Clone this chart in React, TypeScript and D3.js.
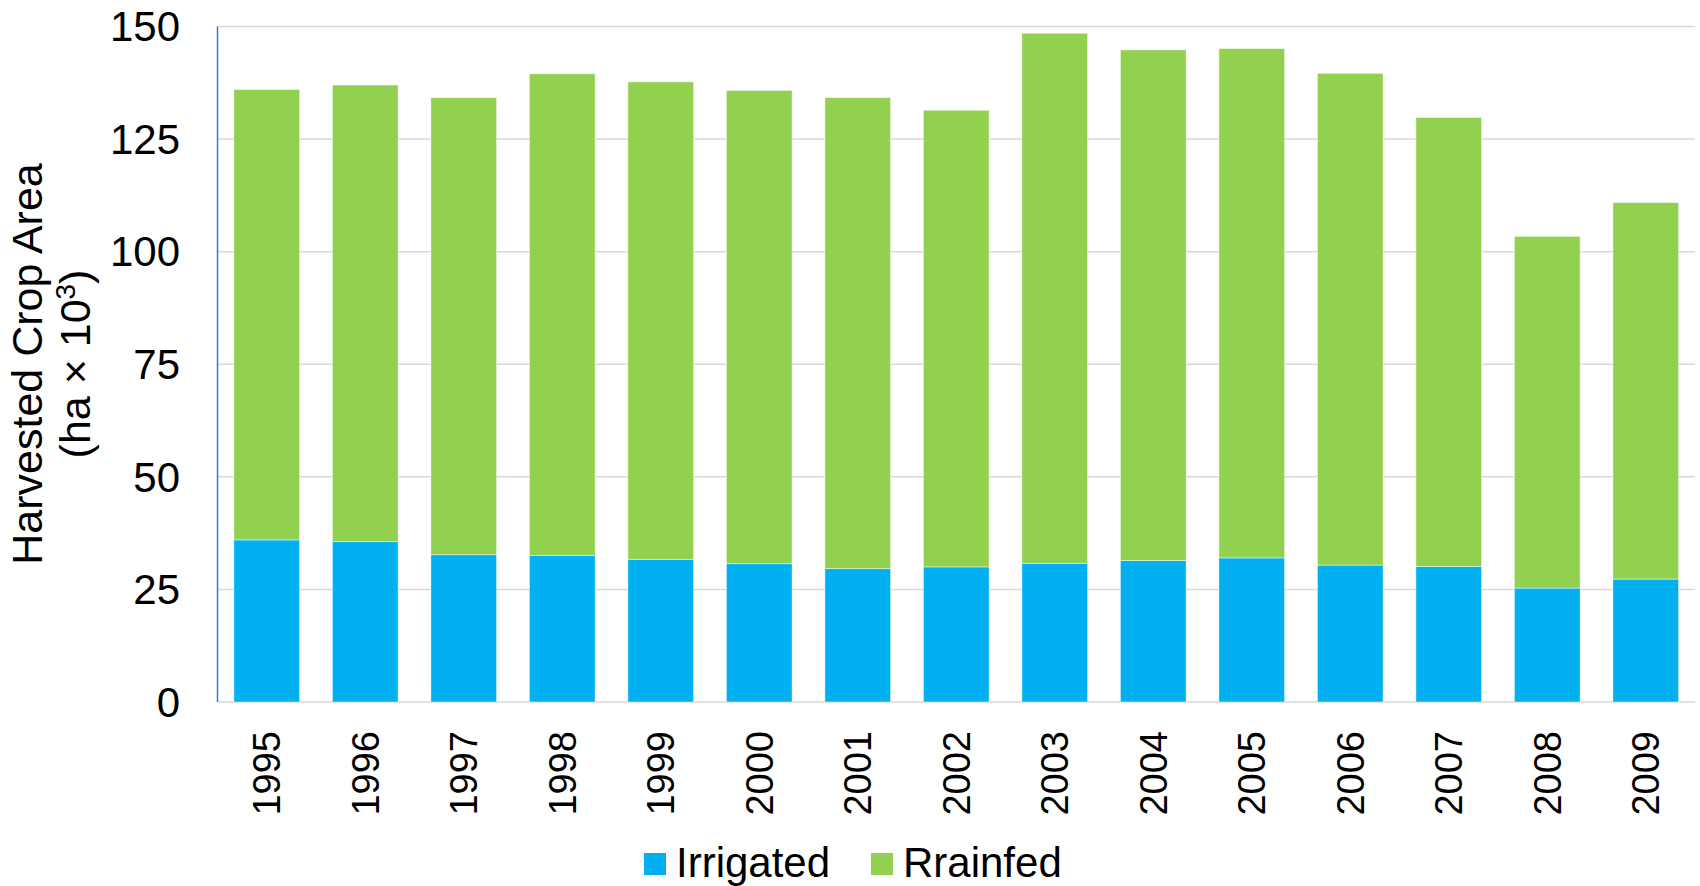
import React from "react";
import * as d3 from "d3";

const years = ["1995", "1996", "1997", "1998", "1999", "2000", "2001", "2002", "2003", "2004", "2005", "2006", "2007", "2008", "2009"];
const irrigated = [36.0, 35.6, 32.7, 32.5, 31.7, 30.7, 29.6, 30.0, 30.8, 31.4, 32.0, 30.4, 30.1, 25.3, 27.3];
const rainfed = [100.0, 101.4, 101.5, 107.0, 106.0, 105.1, 104.6, 101.4, 117.7, 113.4, 113.1, 109.2, 99.7, 78.1, 83.6];
const yTicks = [0, 25, 50, 75, 100, 125, 150];
const seriesNames = ["Irrigated", "Rrainfed"];
const seriesKeys = ["irrigated", "rainfed"];
const colors = ["#00B0F0", "#92D050"];

const W = 1700;
const H = 886;
const FONT = "'Liberation Sans', Arial, Helvetica, sans-serif";

export default function App() {
  const left = 217.5;
  const right = 1695;
  const top = 26.5;
  const bottom = 702;

  const x = d3.scaleBand<string>().domain(years).range([left, right]).paddingInner(0.333).paddingOuter(0.1665);
  const y = d3.scaleLinear().domain([0, 150]).range([bottom, top]);

  const rows = years.map((yr, i) => ({ year: yr, irrigated: irrigated[i], rainfed: rainfed[i] }));
  const stacked = d3.stack<any>().keys(seriesKeys)(rows);

  return (
    <svg width={W} height={H} style={{ position: "absolute", left: 0, top: 0, background: "#fff" }} fontFamily={FONT}>
      {/* gridlines */}
      {yTicks.map((t) => (
        <line key={"g" + t} x1={left} x2={right} y1={y(t)} y2={y(t)} stroke="#D9D9D9" strokeWidth={1.5} />
      ))}
      {/* stacked bars */}
      {stacked.map((s, si) => (
        <g key={s.key} fill={colors[si]}>
          {s.map((d, i) => (
            <rect
              key={i}
              x={x(years[i])}
              width={x.bandwidth()}
              y={y(d[1])}
              height={y(d[0]) - y(d[1])}
              stroke="#ffffff"
              strokeOpacity={0.6}
              strokeWidth={0.75}
            />
          ))}
        </g>
      ))}
      {/* value axis line */}
      <line x1={left} x2={left} y1={top} y2={bottom} stroke="#2F7FD8" strokeWidth={1.5} />
      {/* y tick labels */}
      {yTicks.map((t) => (
        <text key={"t" + t} x={180} y={y(t)} dy="0.35em" textAnchor="end" fontSize={42} fill="#000">
          {t}
        </text>
      ))}
      {/* year labels */}
      {years.map((yr) => (
        <text
          key={yr}
          transform={`translate(${(x(yr) as number) + x.bandwidth() / 2},731) rotate(-90)`}
          textAnchor="end"
          dy="0.35em"
          fontSize={38}
          fill="#000"
        >
          {yr}
        </text>
      ))}
      {/* axis title */}
      <g transform="translate(0,364) rotate(-90)" fontSize={43} fill="#000" textAnchor="middle">
        <text x={0} y={42}>Harvested Crop Area</text>
        <text x={0} y={90}>
          (ha × 10<tspan dy="-15" fontSize={28}>3</tspan>
          <tspan dy="15">)</tspan>
        </text>
      </g>
      {/* legend */}
      {seriesNames.map((n, i) => {
        const lx = i === 0 ? 644 : 871;
        return (
          <g key={n}>
            <rect x={lx} y={853} width={22} height={22} fill={colors[i]} />
            <text x={lx + 32} y={877} fontSize={42} fill="#000">
              {n}
            </text>
          </g>
        );
      })}
    </svg>
  );
}
